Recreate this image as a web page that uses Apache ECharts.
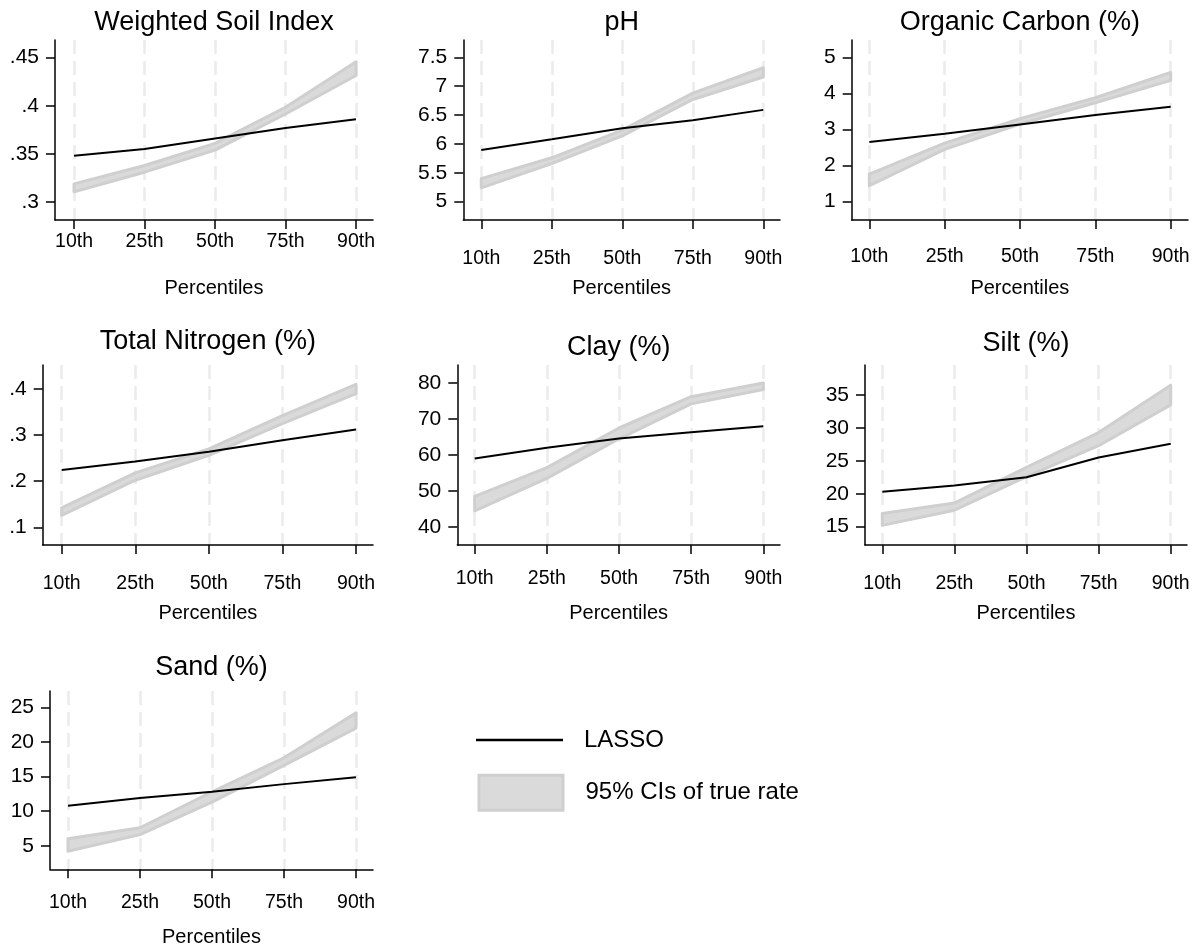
<!DOCTYPE html>
<html><head><meta charset="utf-8">
<script src="https://cdn.jsdelivr.net/npm/echarts@6/dist/echarts.min.js"></script>
<style>html,body{margin:0;padding:0;background:#fff}#c{width:1194px;height:952px}</style>
</head><body><div id="c"></div>
<script>
// ---- data ----
const percentiles = ['10th', '25th', '50th', '75th', '90th'];
const panelTitles = ['Weighted Soil Index', 'pH', 'Organic Carbon (%)', 'Total Nitrogen (%)', 'Clay (%)', 'Silt (%)', 'Sand (%)'];

const wsiLasso = [0.348, 0.355, 0.366, 0.377, 0.386];
const wsiLow   = [0.3105, 0.331, 0.354, 0.3915, 0.4315];
const wsiHigh  = [0.3188, 0.338, 0.361, 0.3985, 0.4457];
const wsiTicks = [0.30, 0.35, 0.40, 0.45];

const phLasso = [5.896, 6.08, 6.27, 6.41, 6.59];
const phLow   = [5.24, 5.66, 6.14, 6.77, 7.16];
const phHigh  = [5.40, 5.76, 6.24, 6.88, 7.32];
const phTicks = [5, 5.5, 6, 6.5, 7, 7.5];

const ocLasso = [2.65, 2.88, 3.14, 3.40, 3.63];
const ocLow   = [1.44, 2.45, 3.15, 3.74, 4.36];
const ocHigh  = [1.76, 2.62, 3.30, 3.88, 4.58];
const ocTicks = [1, 2, 3, 4, 5];

const tnLasso = [0.2245, 0.2425, 0.264, 0.289, 0.312];
const tnLow   = [0.126, 0.202, 0.256, 0.325, 0.390];
const tnHigh  = [0.142, 0.218, 0.270, 0.342, 0.410];
const tnTicks = [0.1, 0.2, 0.3, 0.4];

const clayLasso = [59.0, 62.0, 64.6, 66.3, 68.0];
const clayLow   = [44.5, 53.5, 64.5, 74.2, 78.2];
const clayHigh  = [48.5, 56.5, 67.5, 76.2, 80.0];
const clayTicks = [40, 50, 60, 70, 80];

const siltLasso = [20.3, 21.26, 22.5, 25.5, 27.6];
const siltLow   = [15.2, 17.5, 22.6, 27.3, 33.5];
const siltHigh  = [17.0, 18.6, 24.0, 29.3, 36.5];
const siltTicks = [15, 20, 25, 30, 35];

const sandLasso = [10.77, 11.9, 12.8, 13.9, 14.9];
const sandLow   = [4.2, 6.6, 11.3, 16.6, 22.0];
const sandHigh  = [6.0, 7.6, 12.8, 17.7, 24.2];
const sandTicks = [5, 10, 15, 20, 25];

const lassoName = 'LASSO';
const ciName = '95% CIs of true rate';

// ---- layout (positions / styles) ----
const panelData = [
  {lasso: wsiLasso, low: wsiLow, high: wsiHigh, ticks: wsiTicks},
  {lasso: phLasso, low: phLow, high: phHigh, ticks: phTicks},
  {lasso: ocLasso, low: ocLow, high: ocHigh, ticks: ocTicks},
  {lasso: tnLasso, low: tnLow, high: tnHigh, ticks: tnTicks},
  {lasso: clayLasso, low: clayLow, high: clayHigh, ticks: clayTicks},
  {lasso: siltLasso, low: siltLow, high: siltHigh, ticks: siltTicks},
  {lasso: sandLasso, low: sandLow, high: sandHigh, ticks: sandTicks}
];
const layout = [
  {left: 55,    top: 40,  width: 318,   height: 180,   xMin: -0.27,  xMax: 4.241, yMin: 0.2813, yMax: 0.4684, lm: 12,   ng: 58,   tt: 9.5},
  {left: 463.3, top: 40,  width: 316.7, height: 180,   xMin: -0.255, xMax: 4.237, yMin: 4.683,  yMax: 7.80,   lm: 29,   ng: 58,   tt: 9.5},
  {left: 851.7, top: 40,  width: 336.3, height: 180,   xMin: -0.234, xMax: 4.23,  yMin: 0.49,   yMax: 5.48,   lm: 27,   ng: 58,   tt: 9.5},
  {left: 42.7,  top: 365, width: 330.3, height: 180,   xMin: -0.258, xMax: 4.231, yMin: 0.0616, yMax: 0.452,  lm: 28.5, ng: 58,   tt: 328.5},
  {left: 457.3, top: 365, width: 322.7, height: 180,   xMin: -0.241, xMax: 4.231, yMin: 35,     yMax: 85,     lm: 23.5, ng: 58,   tt: 334.5},
  {left: 865,   top: 365, width: 322,   height: 180,   xMin: -0.24,  xMax: 4.226, yMin: 12.22,  yMax: 39.56,  lm: 28.5, ng: 58,   tt: 330.5},
  {left: 50,    top: 691, width: 323,   height: 178.3, xMin: -0.25,  xMax: 4.236, yMin: 1.59,   yMax: 27.36,  lm: 23.5, ng: 58.5, tt: 654}
];

const FONT = '"Liberation Sans", Arial, Helvetica, sans-serif';
const BAND_FILL = '#dadada';
const BAND_EDGE = '#cfcfcf';

function fmtY(v) {
  let s = String(+(+v).toFixed(4));
  return s.replace(/^0\./, '.');
}

function bandRenderer(low, high) {
  return function (params, api) {
    if (params.dataIndex !== 0) return null;
    const upper = [], lower = [];
    for (let j = 0; j < low.length; j++) {
      upper.push(api.coord([j, high[j]]));
      lower.push(api.coord([j, low[j]]));
    }
    const pts = upper.concat(lower.reverse());
    return {
      type: 'polygon',
      shape: {points: pts},
      style: {fill: BAND_FILL, stroke: BAND_EDGE, lineWidth: 3, lineJoin: 'round'}
    };
  };
}

const grids = [], xAxes = [], yAxes = [], series = [], titles = [];
layout.forEach((L, i) => {
  const D = panelData[i];
  grids.push({left: L.left, top: L.top, width: L.width, height: L.height, containLabel: false, outerBoundsMode: 'none'});
  titles.push({
    text: panelTitles[i], left: L.left + L.width / 2, top: L.tt, textAlign: 'center', padding: 0,
    textStyle: {fontFamily: FONT, fontSize: 27, fontWeight: 'normal', color: '#000'}
  });
  xAxes.push({
    type: 'value', gridIndex: i, min: L.xMin, max: L.xMax,
    axisLine: {show: true, onZero: false, lineStyle: {color: '#000', width: 1.5}},
    axisTick: {show: true, length: 9, customValues: [0, 1, 2, 3, 4], lineStyle: {color: '#000', width: 1.5}},
    axisLabel: {show: true, customValues: [0, 1, 2, 3, 4], margin: L.lm, fontFamily: FONT, fontSize: 19.5, color: '#000',
      formatter: v => percentiles[Math.round(v)]},
    splitLine: {show: true, lineStyle: {color: '#ebebeb', width: 2.5, type: [14, 7]}},
    name: 'Percentiles', nameLocation: 'middle', nameGap: L.ng,
    nameTextStyle: {fontFamily: FONT, fontSize: 20, color: '#000'}
  });
  yAxes.push({
    type: 'value', gridIndex: i, min: L.yMin, max: L.yMax,
    axisLine: {show: true, onZero: false, lineStyle: {color: '#000', width: 1.5}},
    axisTick: {show: true, length: 9, customValues: D.ticks, lineStyle: {color: '#000', width: 1.5}},
    axisLabel: {show: true, customValues: D.ticks, margin: 16, fontFamily: FONT, fontSize: 21, color: '#000', formatter: fmtY},
    splitLine: {show: false}
  });
  series.push({
    type: 'custom', name: ciName, xAxisIndex: i, yAxisIndex: i, silent: true, z: 2,
    data: D.low.map((v, j) => [j, v, D.high[j]]),
    encode: {x: 0, y: [1, 2]},
    itemStyle: {color: BAND_FILL},
    renderItem: bandRenderer(D.low, D.high)
  });
  series.push({
    type: 'line', name: lassoName, xAxisIndex: i, yAxisIndex: i, silent: true,
    data: D.lasso.map((v, j) => [j, v]), symbol: 'none', z: 5,
    itemStyle: {color: '#000'}, lineStyle: {color: '#000', width: 2}
  });
});

const chart = echarts.init(document.getElementById('c'), null, {renderer: 'canvas'});
chart.setOption({
  backgroundColor: '#fff',
  animation: false,
  title: titles,
  grid: grids,
  xAxis: xAxes,
  yAxis: yAxes,
  legend: [
    {data: [{name: lassoName, icon: 'rect'}], left: 476, top: 728, padding: 0, selectedMode: false,
      itemWidth: 87, itemHeight: 2.5, itemStyle: {color: '#000', borderWidth: 0},
      textStyle: {fontFamily: FONT, fontSize: 24, color: '#000', padding: [0, 0, 0, 16]}},
    {data: [{name: ciName, icon: 'rect'}], left: 477.5, top: 773.8, padding: 0, selectedMode: false,
      itemWidth: 84, itemHeight: 35, itemStyle: {color: BAND_FILL, borderColor: BAND_EDGE, borderWidth: 3},
      textStyle: {fontFamily: FONT, fontSize: 24, color: '#000', padding: [0, 0, 0, 17.5]}}
  ],
  series: series
});
</script></body></html>
